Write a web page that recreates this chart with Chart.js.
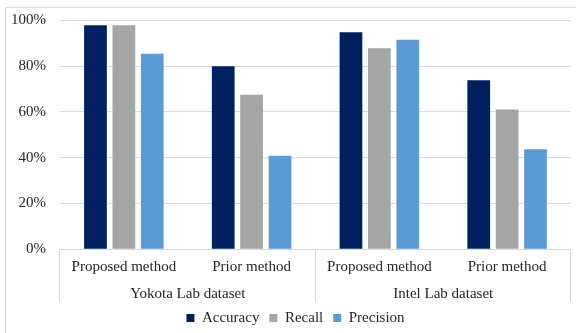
<!DOCTYPE html>
<html>
<head>
<meta charset="utf-8">
<script src="https://cdn.jsdelivr.net/npm/chart.js@4/dist/chart.umd.min.js"></script>
<style>
  html, body { margin: 0; padding: 0; background: #fff; overflow: hidden; }
  #wrap { position: relative; width: 576px; height: 333px; }
  #frame { position: absolute; left: 5px; top: 7px; width: 620px; height: 420px;
           border-top: 1px solid #d9d9d9; border-left: 1px solid #d9d9d9; box-sizing: border-box; }
  canvas { position: absolute; left: 0; top: 0; }
</style>
</head>
<body>
<div id="wrap">
  <div id="frame"></div>
  <canvas id="chart" width="576" height="333"></canvas>
</div>
<script>
// Methods compared (inner axis) and the dataset each pair belongs to (outer axis)
const methods = ['Proposed method', 'Prior method', 'Proposed method', 'Prior method'];
const datasetGroups = ['Yokota Lab dataset', 'Intel Lab dataset'];

// Scores in percent
const accuracy  = [97.8, 79.9, 94.8, 73.8];
const recall    = [97.8, 67.5, 87.8, 61.1];
const precision = [85.4, 40.9, 91.5, 43.7];

const seriesNames = ['Accuracy', 'Recall', 'Precision'];
const seriesColors = ['#002060', '#a5a5a5', '#5b9bd5'];

const yMin = 0, yMax = 100, yStep = 20;

const FONT = { family: '"Liberation Serif", "Times New Roman", serif', size: 15 };
const TEXT = '#262626';
const GRID = '#d9d9d9';

// Vertical separators under the category axis, between dataset groups
const groupDividers = {
  id: 'groupDividers',
  afterLayout(chart) {
    // legend sits slightly right of the canvas centre
    chart.legend.left += 20;
  },
  afterDraw(chart) {
    const x = chart.scales.x, x2 = chart.scales.x2, ctx = chart.ctx;
    const mid = (x.getPixelForTick(1) + x.getPixelForTick(2)) / 2;
    ctx.save();
    ctx.strokeStyle = GRID;
    ctx.lineWidth = 1;
    [x.left, mid, x.right].forEach(px => {
      const p = Math.round(px) - 0.5;
      ctx.beginPath();
      ctx.moveTo(p, chart.chartArea.bottom);
      ctx.lineTo(p, x2.bottom + 1.5);
      ctx.stroke();
    });
    ctx.restore();
  }
};

const series = [accuracy, recall, precision];

new Chart(document.getElementById('chart'), {
  type: 'bar',
  data: {
    labels: methods,
    datasets: series.map((values, i) => ({
      label: seriesNames[i],
      data: values,
      backgroundColor: seriesColors[i],
      borderWidth: 0,
      barPercentage: 0.8,
      categoryPercentage: 0.667
    }))
  },
  options: {
    responsive: false,
    animation: false,
    layout: { padding: { top: 20.3, right: 5, left: 0, bottom: 0 } },
    plugins: {
      tooltip: { enabled: false },
      legend: {
        position: 'bottom',
        maxHeight: 32.5,
        labels: {
          font: FONT,
          color: TEXT,
          boxWidth: 8,
          boxHeight: 8,
          padding: 10
        }
      }
    },
    scales: {
      y: {
        min: yMin,
        max: yMax,
        ticks: {
          stepSize: yStep,
          font: FONT,
          color: TEXT,
          padding: 0,
          callback: v => v + '%'
        },
        grid: { color: GRID, drawTicks: true, tickLength: 14, tickColor: 'rgba(0,0,0,0)' },
        border: { display: false },
        afterFit: s => { s.width = 60; }
      },
      x: {
        position: 'bottom',
        weight: 0,
        grid: { display: false, drawTicks: false },
        border: { display: false },
        ticks: { font: FONT, color: TEXT, padding: 9, maxRotation: 0, autoSkip: false },
        afterFit: s => { s.height = 32; }
      },
      x2: {
        type: 'category',
        position: 'bottom',
        weight: 1,
        labels: datasetGroups,
        offset: true,
        grid: { display: false, drawTicks: false },
        border: { display: false },
        ticks: { font: FONT, color: TEXT, padding: 3.7, maxRotation: 0, autoSkip: false },
        afterFit: s => { s.height = 19.2; }
      }
    }
  },
  plugins: [groupDividers]
});
</script>
</body>
</html>
